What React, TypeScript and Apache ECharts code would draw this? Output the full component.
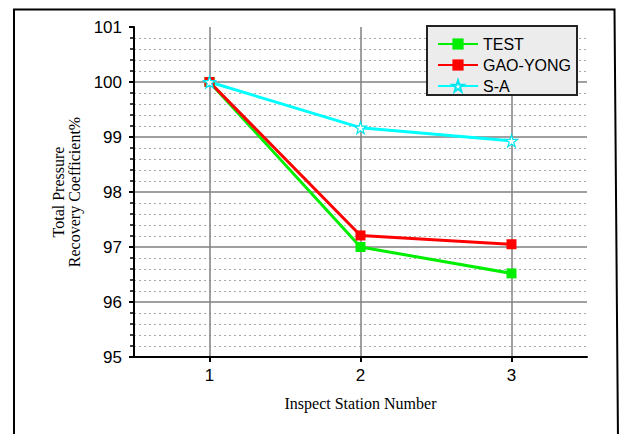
import React, { useEffect, useRef } from "react";
import * as echarts from "echarts";

const stations = ["1", "2", "3"];
const testValues = [100, 97.0, 96.52];
const gaoYongValues = [100, 97.21, 97.05];
const saValues = [100, 99.17, 98.93];
const seriesNames = ["TEST", "GAO-YONG", "S-A"];

const STAR =
  "path://M50,0 L61.2,34.5 L97.6,34.5 L68.2,55.9 L79.4,90.5 L50,69.1 L20.6,90.5 L31.8,55.9 L2.4,34.5 L38.8,34.5 Z";

export default function App() {
  const ref = useRef<HTMLDivElement>(null);
  useEffect(() => {
    if (!ref.current) return;
    const chart = echarts.init(ref.current, null, { renderer: "svg" });
    chart.setOption({
      animation: false,
      backgroundColor: "#ffffff",
      grid: { left: 134, right: 32, top: 27, bottom: 77, containLabel: false },
      legend: {
        orient: "vertical",
        left: 427,
        top: 26,
        backgroundColor: "#ececec",
        borderColor: "#222",
        borderWidth: 2,
        padding: [10, 6, 1, 10],
        itemWidth: 40,
        itemHeight: 14,
        itemGap: 5,
        textStyle: { fontFamily: "Liberation Sans, Arial", fontSize: 16, color: "#000", lineHeight: 16 },
        data: seriesNames,
      },
      xAxis: {
        type: "category",
        data: stations,
        boundaryGap: true,
        name: "Inspect Station Number",
        nameLocation: "middle",
        nameGap: 38,
        nameTextStyle: { fontFamily: "Liberation Serif, Times New Roman", fontSize: 16, color: "#000" },
        axisLine: { show: true, lineStyle: { color: "#000", width: 2 } },
        axisTick: { show: true, alignWithLabel: true, length: 5, lineStyle: { color: "#000", width: 2 } },
        axisLabel: { fontFamily: "Liberation Sans, Arial", fontSize: 17, color: "#000", margin: 10 },
        splitLine: { show: true, alignWithLabel: true, lineStyle: { color: "#808080", width: 1.5 } },
      },
      yAxis: {
        type: "value",
        min: 95,
        max: 101,
        interval: 1,
        name: "Total Pressure\nRecovery Coefficient%",
        nameLocation: "middle",
        nameGap: 52,
        nameTextStyle: { fontFamily: "Liberation Serif, Times New Roman", fontSize: 16, color: "#000", lineHeight: 16 },
        axisLine: { show: true, lineStyle: { color: "#000", width: 2 } },
        axisTick: { show: true, length: 5, lineStyle: { color: "#000", width: 2 } },
        minorTick: { show: true, splitNumber: 5, length: 4, lineStyle: { color: "#000", width: 1.5 } },
        axisLabel: { fontFamily: "Liberation Sans, Arial", fontSize: 17, color: "#000", margin: 12 },
        splitLine: { show: true, showMaxLine: false, lineStyle: { color: "#808080", width: 1.5 } },
        minorSplitLine: { show: true, lineStyle: { color: "#a8a8a8", width: 1, type: [2, 3] } },
      },
      graphic: [
        {
          type: "polyline",
          shape: { points: [[14, 440], [14, 9.5], [614.5, 9.5], [618, 440]] },
          style: { stroke: "#000", lineWidth: 2, fill: "none" },
          silent: true,
        },
      ],
      series: [
        {
          name: seriesNames[0],
          type: "line",
          data: testValues,
          symbol: "rect",
          symbolSize: 10,
          lineStyle: { color: "#00ee00", width: 3 },
          itemStyle: { color: "#00ee00" },
        },
        {
          name: seriesNames[1],
          type: "line",
          data: gaoYongValues,
          symbol: "rect",
          symbolSize: 10,
          lineStyle: { color: "#ff0000", width: 3 },
          itemStyle: { color: "#ff0000" },
        },
        {
          name: seriesNames[2],
          type: "line",
          data: saValues,
          symbol: STAR,
          symbolSize: 12,
          lineStyle: { color: "#00ffff", width: 3 },
          itemStyle: { color: "#ffffff", borderColor: "#00e5ee", borderWidth: 1.2 },
        },
      ],
    });
    return () => chart.dispose();
  }, []);
  return (
    <div
      ref={ref}
      style={{ position: "fixed", left: 0, top: 0, width: 619, height: 434, background: "#fff" }}
    />
  );
}
